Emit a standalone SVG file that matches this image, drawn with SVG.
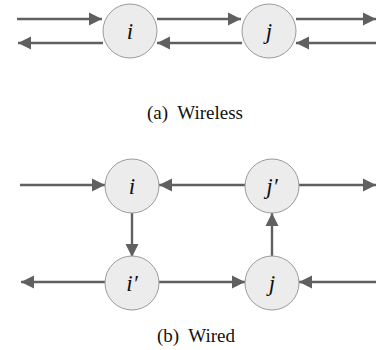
<svg xmlns="http://www.w3.org/2000/svg" width="376" height="350" viewBox="0 0 376 350">
<style>
.n{fill:#ececec;stroke:#9a9a9a;stroke-width:1}
.l{font-family:'Liberation Serif','DejaVu Serif',serif;font-style:italic;font-size:23px;fill:#111;text-anchor:middle}
.c{font-family:'Liberation Serif','DejaVu Serif',serif;font-size:19px;fill:#111;text-anchor:middle;white-space:pre}
.e{stroke:#606060;stroke-width:2.4;fill:none;marker-end:url(#a)}
</style>
<defs>
<marker id="a" markerUnits="userSpaceOnUse" markerWidth="14" markerHeight="14" refX="13" refY="6.5" orient="auto" viewBox="0 0 14 13">
<path d="M0,0 L13,6.5 L0,13 Z" fill="#606060"/>
</marker>
</defs>
<rect width="376" height="350" fill="#fff"/>
<g id="connectors">
<path class="e" d="M17,19 H102"/>
<path class="e" d="M157,19 H241"/>
<path class="e" d="M296,19 H376"/>
<path class="e" d="M103,43 H18"/>
<path class="e" d="M242,43 H157"/>
<path class="e" d="M376,43 H296"/>
<path class="e" d="M20,185 H105"/>
<path class="e" d="M245,185 H159"/>
<path class="e" d="M299,185 H376"/>
<path class="e" d="M132,212 V257"/>
<path class="e" d="M272,257 V213"/>
<path class="e" d="M105,282 H21"/>
<path class="e" d="M159,282 H245"/>
<path class="e" d="M376,282 H299"/>
</g>
<g id="node-i-a"><circle class="n" cx="130" cy="31" r="27"/><text class="l" x="130" y="39">i</text></g>
<g id="node-j-a"><circle class="n" cx="269" cy="31" r="27"/><text class="l" x="269" y="39">j</text></g>
<text class="c" x="195" y="119" xml:space="preserve">(a)  Wireless</text>
<g id="node-i-b"><circle class="n" cx="132" cy="186" r="27"/><text class="l" x="132" y="194">i</text></g>
<g id="node-jp-b"><circle class="n" cx="272" cy="186" r="27"/><text class="l" x="272" y="194">j′</text></g>
<g id="node-ip-b"><circle class="n" cx="132" cy="283" r="27"/><text class="l" x="132" y="291">i′</text></g>
<g id="node-j-b"><circle class="n" cx="272" cy="283" r="27"/><text class="l" x="272" y="291">j</text></g>
<text class="c" x="196" y="342" xml:space="preserve">(b)  Wired</text>
</svg>
